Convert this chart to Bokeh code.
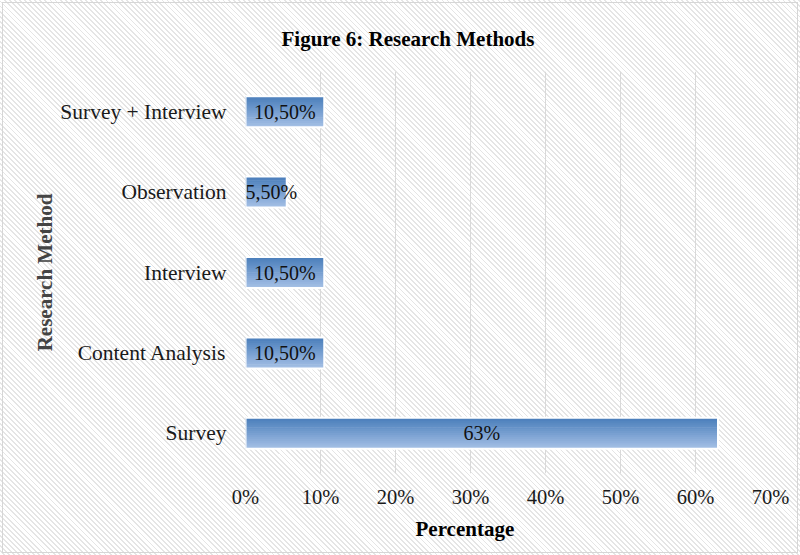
from bokeh.plotting import figure
from bokeh.models import Title, FixedTicker, ColumnDataSource
from bokeh.transform import dodge
from bokeh.core.properties import value
from bokeh.embed import file_html
from bokeh.resources import INLINE

# ---- data ----
methods = ["Survey", "Content Analysis", "Interview", "Observation", "Survey + Interview"]
percent = [63, 10.5, 10.5, 5.5, 10.5]
bar_labels = ["63%", "10,50%", "10,50%", "5,50%", "10,50%"]
x_ticks = [0, 10, 20, 30, 40, 50, 60, 70]
x_tick_labels = ["0%", "10%", "20%", "30%", "40%", "50%", "60%", "70%"]

FONT = "Liberation Serif"
W, H = 800, 555

# labels are centred in their bar, or start at the axis when the bar is too short
lab_x = [v / 2 if v >= 8 else 0 for v in percent]
lab_align = ["center" if v >= 8 else "left" for v in percent]
src = ColumnDataSource(dict(method=methods, pct=percent, lx=lab_x, la=lab_align, lab=bar_labels))

p = figure(width=W, height=H, y_range=methods, x_range=(0, 70),
           output_backend="svg", toolbar_location=None,
           min_border_left=245, min_border_right=30, min_border_top=71, min_border_bottom=82,
           styles={"background-color": "white",
                   "background-image": "repeating-linear-gradient(45deg, #ffffff 0px, #ffffff 2.3px, #e5e5e5 2.3px, #e5e5e5 3.6px)",
                   "outline": "1.5px solid #d6d6d6", "outline-offset": "-3px"})
p.outline_line_color = None
p.background_fill_color = None
p.border_fill_color = None

# chart title
p.title.text = "Figure 6: Research Methods"
p.title.align = "left"
p.title.offset = 36
p.title.text_font = FONT
p.title.text_font_style = "bold"
p.title.text_font_size = "21px"
p.title.text_color = "black"
p.title.standoff = 42

# grid
p.ygrid.grid_line_color = None
p.xgrid.grid_line_color = "#d9d9d9"
p.xgrid.grid_line_width = 1

# gradient bars built from thin slices
bar_h = 0.385
N = 16
top = (74, 126, 187)
bot = (162, 190, 228)
for i in range(N):
    t = i / (N - 1)
    c = tuple(int(round(top[k] + (bot[k] - top[k]) * t)) for k in range(3))
    off = bar_h / 2 - (i + 0.5) * bar_h / N
    p.hbar(y=dodge("method", off, range=p.y_range), right="pct", left=0,
           height=bar_h / N * 1.35, source=src,
           fill_color="#%02x%02x%02x" % c, line_color=None)
p.hbar(y="method", right="pct", left=0, height=bar_h, source=src,
       fill_color=None, line_color="white", line_width=2)

p.text(x="lx", y="method", text="lab", source=src, text_align="la", text_baseline="middle",
       text_font=value(FONT), text_font_size="20px", text_color="#111111")

# axes
p.xaxis.ticker = FixedTicker(ticks=x_ticks)
p.xaxis.major_label_overrides = {t: l for t, l in zip(x_ticks, x_tick_labels)}
for ax in (p.xaxis, p.yaxis):
    ax.axis_line_color = None
    ax.major_tick_line_color = None
    ax.minor_tick_line_color = None
    ax.major_tick_out = 0
    ax.major_tick_in = 0
    ax.major_label_text_font = FONT
    ax.major_label_text_color = "#1a1a1a"
p.xaxis.major_label_text_font_size = "20.5px"
p.xaxis.major_label_standoff = 12
p.yaxis.major_label_text_font_size = "21.5px"
p.yaxis.major_label_standoff = 19

p.yaxis.axis_label = "Research Method"
p.yaxis.axis_label_text_font = FONT
p.yaxis.axis_label_text_font_style = "bold"
p.yaxis.axis_label_text_font_size = "21px"
p.yaxis.axis_label_text_color = "#444444"
p.yaxis.axis_label_standoff = 0

# x-axis title, placed like the reference (left of the frame centre)
xt = Title(text="Percentage", align="left", offset=170, text_font=FONT, text_font_style="bold",
           text_font_size="21px", text_color="black", standoff=8)
p.add_layout(xt, "below")

open("out.html", "w").write(file_html(p, INLINE))
